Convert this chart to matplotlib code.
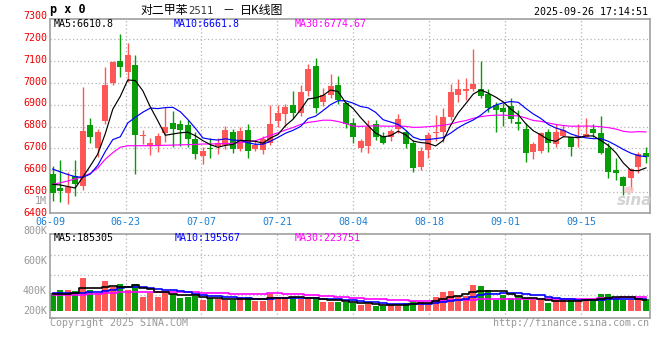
import numpy as np
import pandas as pd
import matplotlib
matplotlib.use("Agg")
import matplotlib.pyplot as plt
from matplotlib.patches import Ellipse

# ---------------- data ----------------
dates = pd.bdate_range("2025-06-09", "2025-09-26").strftime("%m-%d").tolist()

opens = [6583, 6517, 6494, 6575, 6528, 6805, 6700, 6827, 6998, 7101,
         7048, 7081, 6755, 6711, 6711, 6772, 6816, 6810, 6806, 6744,
         6663, 6702, 6711, 6714, 6776, 6698, 6785, 6698, 6691, 6726,
         6827, 6857, 6898, 6860, 6961, 7077, 6913, 6944, 6990, 6909,
         6814, 6700, 6712, 6810, 6758, 6750, 6791, 6775, 6726, 6616,
         6692, 6769, 6773, 6845, 6944, 6962, 6970, 6974, 6948, 6898,
         6887, 6894, 6822, 6791, 6682, 6689, 6773, 6718, 6758, 6750,
         6746, 6753, 6790, 6772, 6700, 6601, 6570, 6563, 6616, 6677]
highs = [6619, 6647, 6593, 6647, 6982, 6837, 6787, 7073, 7100, 7226,
         7183, 7127, 6785, 6746, 6769, 6888, 6870, 6830, 6830, 6776,
         6705, 6746, 6746, 6804, 6791, 6799, 6811, 6738, 6756, 6898,
         6898, 6904, 6964, 6990, 7089, 7115, 6977, 7040, 7031, 6913,
         6837, 6741, 6830, 6830, 6776, 6791, 6857, 6785, 6738, 6705,
         6776, 6852, 6887, 6993, 7020, 7023, 7157, 7099, 6970, 6913,
         6907, 6933, 6878, 6814, 6730, 6773, 6791, 6811, 6807, 6753,
         6811, 6837, 6811, 6849, 6723, 6657, 6573, 6608, 6685, 6708]
lows = [6459, 6456, 6444, 6482, 6509, 6726, 6662, 6811, 6990, 7028,
        7005, 6583, 6720, 6670, 6685, 6730, 6708, 6710, 6705, 6650,
        6628, 6657, 6674, 6697, 6677, 6688, 6656, 6690, 6674, 6715,
        6799, 6799, 6837, 6848, 6939, 6860, 6894, 6929, 6903, 6795,
        6726, 6685, 6677, 6738, 6720, 6735, 6769, 6700, 6593, 6601,
        6654, 6735, 6730, 6830, 6913, 6924, 6964, 6929, 6868, 6776,
        6802, 6817, 6784, 6639, 6650, 6677, 6685, 6708, 6753, 6665,
        6705, 6750, 6753, 6672, 6563, 6555, 6487, 6509, 6586, 6631]
closes = [6494, 6505, 6523, 6535, 6781, 6753, 6776, 6991, 7097, 7075,
          7130, 6761, 6758, 6726, 6756, 6799, 6790, 6785, 6741, 6674,
          6686, 6698, 6726, 6785, 6695, 6781, 6686, 6714, 6744, 6811,
          6863, 6888, 6860, 6959, 7063, 6887, 6944, 6985, 6924, 6810,
          6753, 6735, 6799, 6753, 6723, 6781, 6836, 6718, 6609, 6689,
          6763, 6776, 6845, 6959, 6970, 6974, 6997, 6939, 6886, 6878,
          6865, 6833, 6810, 6677, 6718, 6769, 6723, 6773, 6784, 6708,
          6756, 6764, 6772, 6680, 6593, 6589, 6528, 6604, 6672, 6659]
volumes = [297000, 341000, 341000, 325000, 545000, 347000, 286000, 490000, 396000, 440000,
           347000, 440000, 231000, 297000, 231000, 314000, 275000, 215000, 220000, 242000,
           176000, 204000, 193000, 176000, 176000, 220000, 220000, 160000, 165000, 275000,
           231000, 204000, 220000, 193000, 193000, 204000, 149000, 149000, 149000, 149000,
           121000, 94000, 110000, 83000, 77000, 94000, 77000, 132000, 154000, 149000,
           121000, 226000, 308000, 325000, 242000, 242000, 424000, 407000, 341000, 176000,
           259000, 204000, 242000, 176000, 176000, 176000, 132000, 176000, 176000, 176000,
           176000, 176000, 176000, 275000, 275000, 193000, 176000, 176000, 176000, 193000]

# moving-average values for the first days (window history not shown)
ma5_head = [6535, 6532, 6525, 6518]
ma10_head = [6605, 6592, 6580, 6570, 6567, 6582, 6622, 6685, 6740]
ma30_head = [6535, 6542, 6550, 6560, 6570, 6585, 6610, 6650, 6680, 6705,
             6712, 6712, 6712, 6712, 6713, 6714, 6715, 6716, 6717, 6718,
             6720, 6720, 6721, 6722, 6723, 6726, 6731, 6735, 6747]
vma5_head = [275000, 275000, 275000, 300000]
vma10_head = [297000, 297000, 297000, 297000, 300000, 305000, 314000, 330000, 345000]
vma30_head = [253000, 255000, 258000, 261000, 265000, 272000, 280000, 290000, 300000, 308000,
              308000, 308000, 308000, 308000, 308000, 308000, 308000, 308000, 308000, 308000,
              292000, 292000, 292000, 292000, 280000, 280000, 280000, 280000, 280000]

# legend values as printed on the chart
price_legend = ["MA5:6610.8", "MA10:6661.8", "MA30:6774.67"]
vol_legend = ["MA5:185305", "MA10:195567", "MA30:223751"]

label_dates = ["06-09", "06-23", "07-07", "07-21", "08-04", "08-18", "09-01", "09-15"]
price_labels = [7300, 7200, 7100, 7000, 6900, 6800, 6700, 6600, 6500, 6400]
vol_labels = ["1M", "800K", "600K", "400K", "200K"]

# ---------------- derived series ----------------
def moving(values, n, head):
    m = pd.Series(values, dtype=float).rolling(n).mean().to_numpy()
    m[:n - 1] = head
    return m

ma5 = moving(closes, 5, ma5_head)
ma10 = moving(closes, 10, ma10_head)
ma30 = moving(closes, 30, ma30_head)
vma5 = moving(volumes, 5, vma5_head)
vma10 = moving(volumes, 10, vma10_head)
vma30 = moving(volumes, 30, vma30_head)

o = np.array(opens, float); h = np.array(highs, float)
l = np.array(lows, float); c = np.array(closes, float)
v = np.array(volumes, float)
x = np.arange(len(dates))
RED = "#ff5656"
GREEN = "#089c08"
cols = np.where(c >= o, RED, GREEN)

# ---------------- figure ----------------
W, H = 660, 360
fig = plt.figure(figsize=(W / 100, H / 100), dpi=100)
fig.patch.set_facecolor("white")

def fx(px):
    return px / W

def fy(py):
    return 1 - py / H

ax = fig.add_axes([fx(50), fy(213.3), fx(600), (213.3 - 19.3) / H])
axv = fig.add_axes([fx(50), fy(318.3), fx(600), (318.3 - 234.3) / H])

mono = "DejaVu Sans Mono"
FS = 7.2
GRIDC = "#b4b4b4"
BORDER = "#a0a0a0"

xlim = (-0.36, 79.54)
grid_pos = [dates.index(d) * 1.0105 - 0.4 for d in label_dates]

for a in (ax, axv):
    a.set_xlim(*xlim)
    for s in a.spines.values():
        s.set_color(BORDER)
        s.set_linewidth(1.2)
    a.tick_params(left=False, bottom=False, labelleft=False, labelbottom=False)
    a.set_xticks([])
    a.set_yticks([])
    for gp in grid_pos[1:]:
        a.axvline(gp, color=GRIDC, lw=0.9, ls=(0, (1, 2)), zorder=0)

# ---- price panel ----
ax.set_ylim(6402, 7292)
for p in price_labels[1:-1]:
    ax.axhline(p, color=GRIDC, lw=0.9, ls=(0, (1, 2)), zorder=0)

ax.vlines(x, l, h, colors=cols, lw=1.0, zorder=2)
body_bottom = np.minimum(o, c)
body_h = np.maximum(np.abs(c - o), 4)
ax.bar(x, body_h, bottom=body_bottom, width=0.8, color=cols, linewidth=0, zorder=3)

ax.plot(x, ma30, color="#ff00ff", lw=0.85, zorder=4)
ax.plot(x, ma10, color="#0000ff", lw=0.85, zorder=5)
ax.plot(x, ma5, color="#000000", lw=0.85, zorder=6)

# ---- volume panel ----
axv.set_ylim(-125000, 1260000)
for py in (255, 275, 295):
    f = (318.3 - py) / 84
    axv.plot([0, 1], [f, f], transform=axv.transAxes, color=GRIDC, lw=0.9,
             ls=(0, (1, 2)), zorder=0)
axv.bar(x, v, width=0.8, color=cols, linewidth=0, zorder=2)
axv.plot(x, vma30, color="#ff00ff", lw=1.2, drawstyle="steps-mid", zorder=3)
axv.plot(x, vma10, color="#0000ff", lw=1.2, drawstyle="steps-mid", zorder=4)
axv.plot(x, vma5, color="#000000", lw=1.2, drawstyle="steps-mid", zorder=5)

# ---------------- texts (positioned by baseline, pixel coords) ----------------
def T(px, py, s, **kw):
    kw.setdefault("family", mono)
    kw.setdefault("fontsize", FS)
    kw.setdefault("va", "baseline")
    fig.text(fx(px), fy(py), s, **kw)

# header
T(50, 13.5, "p x 0", fontweight="bold", fontsize=8.5, ha="left")
cjk = ["Noto Sans CJK SC", "DejaVu Sans"]
T(140, 14, "对二甲苯", family=cjk, fontsize=8.6, ha="left")
T(188, 14, "2511", family="DejaVu Sans", fontsize=7.2, ha="left", color="#333333")
T(222, 14, "－", family=cjk, fontsize=8.6, ha="left")
T(240, 14, "日K线图", family=cjk, fontsize=8.6, ha="left")
T(648, 15, "2025-09-26 17:14:51", ha="right")

# legends in panels
for s, px, col in zip(price_legend, (54, 174, 295), ("#000000", "#0000ff", "#ff00ff")):
    T(px, 26.7, s, ha="left", color=col)
for s, px, col in zip(vol_legend, (54, 175, 295), ("#000000", "#0000ff", "#ff00ff")):
    T(px, 241, s, ha="left", color=col)

# price axis labels (drawn just about on their grid lines, as in the source)
for p in price_labels:
    py = 39.3 + (7200 - p) * 0.2186 + 1.5
    T(47, py, str(p), ha="right", color="#ee0000")

for s, py in zip(vol_labels, (204, 234, 264, 294, 314)):
    T(47, py, s, ha="right", color="#999999")

# date labels
for d, gp in zip(label_dates, grid_pos):
    px = 50 + (gp - xlim[0]) / (xlim[1] - xlim[0]) * 600
    if d == label_dates[0]:
        px = 50
    T(px, 225, d, ha="center", color="#1a7fd4")

T(50, 325.5, "Copyright 2025 SINA.COM", ha="left", color="#999999")
T(649, 325.5, "http://finance.sina.com.cn", ha="right", color="#999999")

# watermark
fig.patches.append(Ellipse((fx(629), fy(190)), 10 / W, 7 / H, transform=fig.transFigure,
                           facecolor="#f6c4c4", edgecolor="none", alpha=0.8))
T(635, 205, "sina", family="DejaVu Sans", fontsize=11, fontweight="bold",
  fontstyle="italic", ha="center", color="#cccccc", alpha=0.85)

fig.savefig("out.png", dpi=100, facecolor="white")
